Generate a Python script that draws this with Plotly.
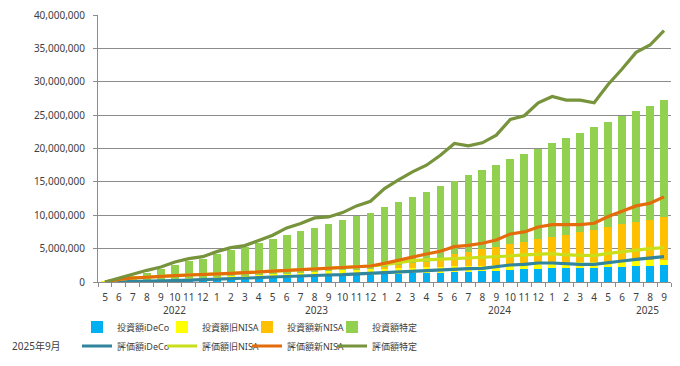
import numpy as np
import plotly.graph_objects as go

# ---- categories (2022-05 .. 2025-09) ----
months = [5, 6, 7, 8, 9, 10, 11, 12,
          1, 2, 3, 4, 5, 6, 7, 8, 9, 10, 11, 12,
          1, 2, 3, 4, 5, 6, 7, 8, 9, 10, 11, 12,
          1, 2, 3, 4, 5, 6, 7, 8, 9]
month_labels = [str(m) for m in months]
year_labels = ["2022", "2023", "2024", "2025"]
year_label_pos = [5.0, 15.1, 28.2, 38.8]   # category position of year labels

# ---- investment amounts (million yen) ----
inv_ideco = [0.0, 0.02, 0.05, 0.1, 0.15, 0.2, 0.25, 0.3, 0.35, 0.4, 0.45, 0.5, 0.58, 0.66,
             0.75, 0.85, 0.9, 0.97, 1.05, 1.1, 1.2, 1.25, 1.3, 1.35, 1.42, 1.5, 1.55, 1.6,
             1.7, 1.8, 1.95, 2.0, 2.05, 2.05, 2.1, 2.15, 2.2, 2.3, 2.35, 2.45, 2.5]
inv_kyu_nisa = [0.04, 0.09, 0.13, 0.17, 0.22, 0.26, 0.3, 0.35, 0.39, 0.43, 0.47, 0.52, 0.56,
                0.6, 0.64, 0.69, 0.73, 0.77, 0.81, 0.85, 0.85, 0.85, 0.85, 0.85, 0.85, 0.85,
                0.85, 0.85, 0.85, 0.85, 0.85, 0.85, 0.85, 0.85, 0.85, 0.85, 0.85, 0.85, 0.85,
                0.85, 0.85]
inv_shin_nisa = [0] * 20 + [0.25, 0.45, 0.65, 0.85, 1.13, 1.8, 2.1, 2.55, 2.7, 3.1, 3.2,
                            3.65, 3.85, 4.2, 4.55, 4.85, 5.2, 5.5, 5.8, 6.05, 6.4]
inv_tokutei = [0.0, 0.29, 0.72, 1.13, 1.63, 2.14, 2.55, 2.85, 3.51, 3.92, 4.28, 4.88, 5.31,
               5.84, 6.21, 6.61, 7.02, 7.51, 8.04, 8.4, 8.95, 9.45, 9.95, 10.45, 11.0, 10.95,
               11.6, 11.75, 12.3, 12.65, 13.15, 13.5, 14.05, 14.5, 14.85, 15.35, 15.75, 16.2,
               16.65, 17.0, 17.5]

# ---- valuation amounts (million yen) ----
val_ideco = [0.0, 0.02, 0.05, 0.1, 0.15, 0.2, 0.27, 0.33, 0.4, 0.5, 0.58, 0.65, 0.75, 0.85,
             0.95, 1.0, 1.05, 1.1, 1.2, 1.3, 1.45, 1.6, 1.7, 1.75, 1.8, 1.95, 2.0, 2.05,
             2.3, 2.55, 2.65, 2.85, 2.85, 2.7, 2.65, 2.65, 2.85, 3.15, 3.4, 3.55, 3.8]
val_kyu_nisa = [0.0, 0.38, 0.55, 0.65, 0.7, 0.75, 0.78, 0.77, 0.8, 0.8, 0.82, 0.85, 0.85,
                0.9, 0.9, 0.95, 0.95, 1.0, 1.0, 1.1, 1.15, 1.3, 1.5, 1.55, 1.6, 1.55, 1.55,
                1.55, 1.4, 1.35, 1.4, 1.35, 1.4, 1.35, 1.3, 1.3, 1.45, 1.4, 1.45, 1.45, 1.35]
val_shin_nisa = [0] * 20 + [0.2, 0.4, 0.6, 0.9, 1.2, 1.8, 1.95, 2.2, 2.6, 3.3, 3.45, 4.05,
                            4.35, 4.55, 4.65, 4.85, 5.5, 6.05, 6.55, 6.8, 7.6]
val_tokutei = [0.0, 0.2, 0.6, 1.0, 1.4, 2.05, 2.45, 2.7, 3.35, 3.85, 4.05, 4.7, 5.4, 6.35,
               6.9, 7.65, 7.75, 8.3, 9.2, 9.7, 11.2, 12.0, 12.7, 13.3, 14.4, 15.45, 14.9,
               15.05, 15.7, 17.15, 17.4, 18.6, 19.2, 18.65, 18.65, 18.05, 19.8, 21.3, 23.0,
               23.7, 24.9]

MAN = 1_000_000
x = np.arange(len(months))

FONT = "Noto Sans, Noto Sans CJK JP, sans-serif"
TXT = "#404040"
GRID = "#8C8C8C"

W, H = 680, 366
ML, MR, MT, MB = 98, 9, 15, 84
PW, PH = W - ML - MR, H - MT - MB


def px_x(p):   # pixel column -> paper x
    return (p - ML) / PW


def px_y(p):   # pixel row -> paper y
    return (H - MB - p) / PH


fig = go.Figure()

bar_series = [
    ("投資額iDeCo", inv_ideco, "#00B0F0"),
    ("投資額旧NISA", inv_kyu_nisa, "#FFFF00"),
    ("投資額新NISA", inv_shin_nisa, "#FFC000"),
    ("投資額特定", inv_tokutei, "#92D050"),
]
for name, vals, col in bar_series:
    fig.add_trace(go.Bar(x=x, y=np.array(vals) * MAN, name=name, marker_color=col,
                         marker_line_width=0, width=0.55, legend="legend"))

val_stack = np.cumsum(np.array([val_ideco, val_kyu_nisa, val_shin_nisa, val_tokutei],
                               dtype=float), axis=0) * MAN
line_series = [
    ("評価額iDeCo", "#31859C"),
    ("評価額旧NISA", "#C9DF1A"),
    ("評価額新NISA", "#E46C0A"),
    ("評価額特定", "#77933C"),
]
for k, (name, col) in enumerate(line_series):
    fig.add_trace(go.Scatter(x=x, y=val_stack[k], name=name, mode="lines",
                             line=dict(color=col, width=3.2), legend="legend2"))

# year labels below month labels
for lbl, pos in zip(year_labels, year_label_pos):
    fig.add_annotation(x=pos, xref="x", y=px_y(310), yref="paper", text=lbl,
                       showarrow=False, font=dict(size=10, color=TXT, family=FONT),
                       xanchor="center", yanchor="middle")

fig.add_annotation(x=px_x(10), xref="paper", y=px_y(346), yref="paper",
                   text="2025年9月", showarrow=False,
                   font=dict(size=10, color=TXT, family=FONT),
                   xanchor="left", yanchor="middle")

fig.update_layout(
    width=W, height=H,
    margin=dict(l=ML, r=MR, t=MT, b=MB, autoexpand=False),
    paper_bgcolor="white", plot_bgcolor="white",
    barmode="stack",
    font=dict(family=FONT, size=10, color=TXT),
    showlegend=True,
    legend=dict(orientation="h", xref="container", yref="container",
                x=77 / W, xanchor="left", y=1 - 327 / H, yanchor="middle",
                entrywidth=40, entrywidthmode="pixels", traceorder="normal",
                font=dict(size=9, family=FONT, color=TXT), bgcolor="rgba(0,0,0,0)"),
    legend2=dict(orientation="h", xref="container", yref="container",
                 x=77 / W, xanchor="left", y=1 - 346 / H, yanchor="middle",
                 entrywidth=40, entrywidthmode="pixels", traceorder="normal",
                 font=dict(size=9, family=FONT, color=TXT), bgcolor="rgba(0,0,0,0)"),
    xaxis=dict(range=[-0.5, len(months) - 0.5], tickmode="array", tickvals=x,
               ticktext=month_labels, ticks="", showgrid=False, zeroline=False,
               showline=True, linecolor=GRID, linewidth=1, ticklabelstandoff=6,
               automargin=False,
               tickfont=dict(size=10, color=TXT, family=FONT),
               minor=dict(ticks="outside", ticklen=4, tickcolor=GRID, tick0=-0.5, dtick=1,
                          showgrid=False)),
    yaxis=dict(range=[0, 40 * MAN], dtick=5 * MAN, tickformat=",", showgrid=True,
               gridcolor=GRID, gridwidth=1, zeroline=False, showline=True, linecolor=GRID,
               ticks="outside", ticklen=4, tickcolor=GRID, ticklabelstandoff=6,
               automargin=False,
               tickfont=dict(size=10, color=TXT, family=FONT)),
)

# page tweaks: no body margin; thin grey frame around the chart area like the original
post = (
    "document.body.style.margin='0';"
    "var g=document.querySelector('.plotly-graph-div');"
    "if(g){g.style.outline='1px solid #898989';g.style.outlineOffset='-6px';}"
)
fig.write_html("out.html", config={"displayModeBar": False}, post_script=post)
